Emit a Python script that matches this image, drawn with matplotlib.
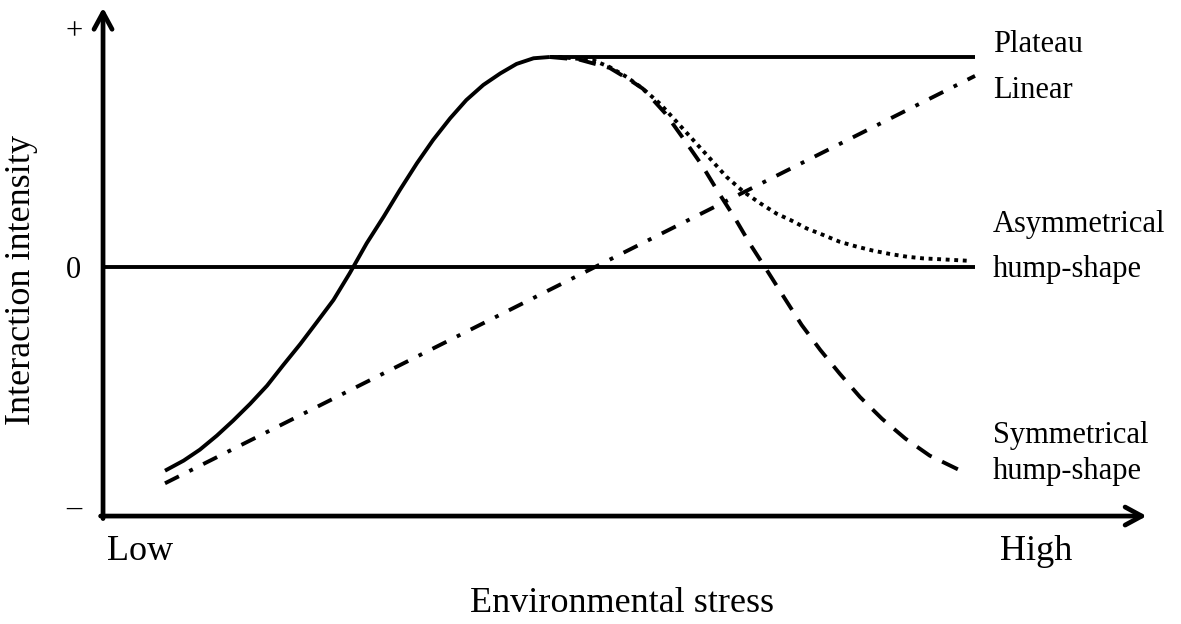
import matplotlib.pyplot as plt

plt.rcParams['font.family'] = ['Liberation Serif', 'DejaVu Serif']

# stress: 0 = low, 1 = high ; intensity: 0 = neutral, 1 = peak facilitation
rise_x = [0.000, 0.023, 0.043, 0.064, 0.084, 0.105, 0.126, 0.146, 0.167, 0.187, 0.208, 0.228,
          0.249, 0.270, 0.290, 0.311, 0.331, 0.352, 0.372, 0.393, 0.414, 0.434, 0.455, 0.475]
rise_y = [-0.970, -0.922, -0.870, -0.803, -0.732, -0.652, -0.565, -0.467, -0.367, -0.265, -0.157, -0.030,
          0.113, 0.240, 0.367, 0.494, 0.605, 0.708, 0.795, 0.867, 0.922, 0.967, 0.994, 1.0]

plateau_x = [0.475, 1.0]
plateau_y = [1.0, 1.0]

linear_x = [0.0, 1.0]
linear_y = [-1.03, 0.91]

asym_x = [0.475, 0.488, 0.529, 0.549, 0.570, 0.590, 0.611, 0.632, 0.652, 0.673, 0.693, 0.714, 0.735,
          0.755, 0.772, 0.792, 0.813, 0.833, 0.854, 0.874, 0.895, 0.916, 0.936, 0.957, 0.990]
asym_y = [1.0, 1.0, 0.984, 0.952, 0.905, 0.849, 0.778, 0.690, 0.605, 0.516, 0.430, 0.359, 0.303,
          0.254, 0.224, 0.184, 0.152, 0.120, 0.097, 0.078, 0.062, 0.049, 0.041, 0.037, 0.030]

sym_x = [0.475, 0.512, 0.549, 0.574, 0.590, 0.618, 0.641, 0.663, 0.683, 0.704, 0.723, 0.744,
         0.765, 0.786, 0.809, 0.833, 0.858, 0.885, 0.914, 0.944, 0.977, 0.990]
sym_y = [1.0, 0.987, 0.948, 0.890, 0.849, 0.730, 0.606, 0.484, 0.357, 0.230, 0.105, -0.021,
         -0.149, -0.276, -0.395, -0.508, -0.619, -0.722, -0.817, -0.898, -0.960, -0.984]

zero_x = [-0.0765, 1.0]
zero_y = [0.0, 0.0]

W, H = 1181, 624
fig = plt.figure(figsize=(W / 100, H / 100), dpi=100)
ax = fig.add_axes([0, 0, 1, 1])
ax.set_xlim(-165 / 810, (W - 165) / 810)
ax.set_ylim((267 - H) / 210, 267 / 210)
ax.axis('off')

lw = 2.8
ax.plot(zero_x, zero_y, color='black', lw=lw, solid_capstyle='butt')
ax.plot(rise_x, rise_y, color='black', lw=lw, solid_capstyle='butt', solid_joinstyle='round')
ax.plot(plateau_x, plateau_y, color='black', lw=lw, solid_capstyle='butt')
ax.plot(linear_x, linear_y, color='black', lw=lw, dashes=(4, 3, 1, 3))
ax.plot(asym_x, asym_y, color='black', lw=lw, dashes=(1, 1.2))
ax.plot(sym_x, sym_y, color='black', lw=lw, dashes=(4.5, 3))

# axes with arrows
ox, oy = -0.0765, -1.186
astyle = '->,head_length=1.2,head_width=0.65'
ax.annotate('', xy=(ox, 1.235), xytext=(ox, oy - 0.012),
            arrowprops=dict(arrowstyle=astyle, lw=3.4, color='black', shrinkA=0, shrinkB=0))
ax.annotate('', xy=(1.212, oy), xytext=(ox - 0.003, oy),
            arrowprops=dict(arrowstyle=astyle, lw=3.4, color='black', shrinkA=0, shrinkB=0))

def ft(x, y, s, **kw):
    fig.text(x / W, 1 - y / H, s, va='center', color='black', **kw)

ft(74, 32, '+', ha='center', fontsize=22)
ft(73, 270, '0', ha='center', fontsize=22)
ft(74, 508, '\u2013', ha='center', fontsize=22)

ft(993, 45, 'Plateau', fontsize=22)
ft(993, 91, 'Linear', fontsize=22)
ft(993, 224, 'Asymmetrical', fontsize=22)
ft(993, 270, 'hump-shape', fontsize=22)
ft(993, 435, 'Symmetrical', fontsize=22)
ft(993, 472, 'hump-shape', fontsize=22)

ft(107, 551, 'Low', fontsize=26)
ft(1000, 551, 'High', fontsize=26)
ft(622, 604, 'Environmental stress', ha='center', fontsize=26)
ft(22, 280, 'Interaction intensity', ha='center', rotation=90, fontsize=26)

fig.savefig('out.png', dpi=100)
